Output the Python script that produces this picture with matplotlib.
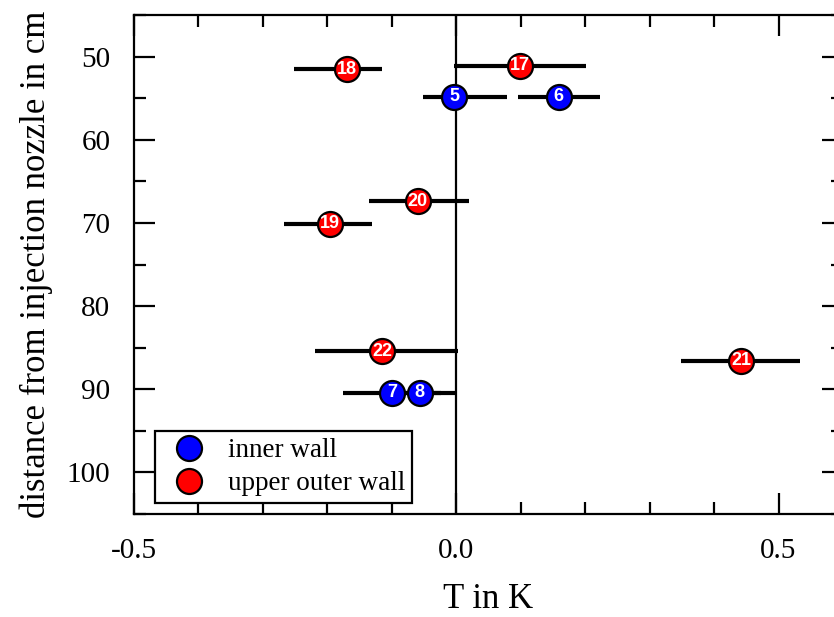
import numpy as np
import matplotlib
matplotlib.use('Agg')
import matplotlib.pyplot as plt
from matplotlib.ticker import MultipleLocator

plt.rcParams['font.family'] = 'Liberation Serif'

# inner wall sensors
inner_id = ['5', '6', '7', '8']
inner_T = [-0.003, 0.159, -0.100, -0.057]
inner_d = [54.8, 54.8, 90.4, 90.4]
inner_lo = [0.049, 0.064, 0.076, 0.058]
inner_hi = [0.081, 0.064, 0.076, 0.058]

# upper outer wall sensors
outer_id = ['17', '18', '19', '20', '21', '22']
outer_T = [0.099, -0.169, -0.196, -0.060, 0.442, -0.115]
outer_d = [51.1, 51.5, 70.1, 67.4, 86.6, 85.4]
outer_lo = [0.102, 0.083, 0.072, 0.075, 0.094, 0.104]
outer_hi = [0.102, 0.054, 0.065, 0.079, 0.091, 0.118]

fig = plt.figure(figsize=(8.34, 6.17), dpi=100)
ax = fig.add_axes([0.1607, 0.1669, 0.8501, 0.8088])

ax.axvline(0, color='black', lw=1.6, zorder=1)

#error bars first, markers on top
ax.errorbar(inner_T, inner_d, xerr=[inner_lo, inner_hi], fmt='none', ecolor='black', elinewidth=3, capsize=0, zorder=2)
ax.errorbar(outer_T, outer_d, xerr=[outer_lo, outer_hi], fmt='none', ecolor='black', elinewidth=3, capsize=0, zorder=2)

ax.plot(inner_T, inner_d, 'o', ms=18, mfc='blue', mec='black', mew=1.6, ls='none', zorder=3, label='inner wall')
ax.plot(outer_T, outer_d, 'o', ms=18, mfc='red', mec='black', mew=1.6, ls='none', zorder=3, label='upper outer wall')

for t, d, s in zip(inner_T + outer_T, inner_d + outer_d, inner_id + outer_id):
    ax.text(t, d, s, color='white', fontweight='bold', fontsize=13, family='Liberation Sans',
            ha='center', va='center', zorder=4)

ax.set_xlim(-0.5, 0.6)
ax.set_ylim(105, 45)
ax.xaxis.set_major_locator(MultipleLocator(0.5))
ax.xaxis.set_minor_locator(MultipleLocator(0.1))
ax.yaxis.set_major_locator(MultipleLocator(10))
ax.yaxis.set_minor_locator(MultipleLocator(5))
ax.xaxis.set_major_formatter(matplotlib.ticker.FormatStrFormatter('%.1f'))

ax.tick_params(which='both', direction='in', top=True, right=True, width=1.6, labelsize=21)
ax.tick_params(which='major', length=15)
ax.tick_params(which='minor', length=8.5)
ax.tick_params(axis='x', pad=17)
ax.tick_params(axis='y', pad=17)
for sp in ax.spines.values():
    sp.set_linewidth(1.6)

ax.set_xlabel('T in K', fontsize=25, labelpad=14)
ax.set_ylabel('distance from injection nozzle in cm', fontsize=25, labelpad=10)

leg = ax.legend(loc='lower left', bbox_to_anchor=(0.0296, 0.022), borderaxespad=0, fontsize=19.5,
                frameon=True, fancybox=False, edgecolor='black', framealpha=1, handletextpad=0.45,
                borderpad=0.25, labelspacing=0.3, markerscale=1.0, handlelength=2.0)
leg.get_frame().set_linewidth(1.6)

fig.savefig('out.png', dpi=100)
